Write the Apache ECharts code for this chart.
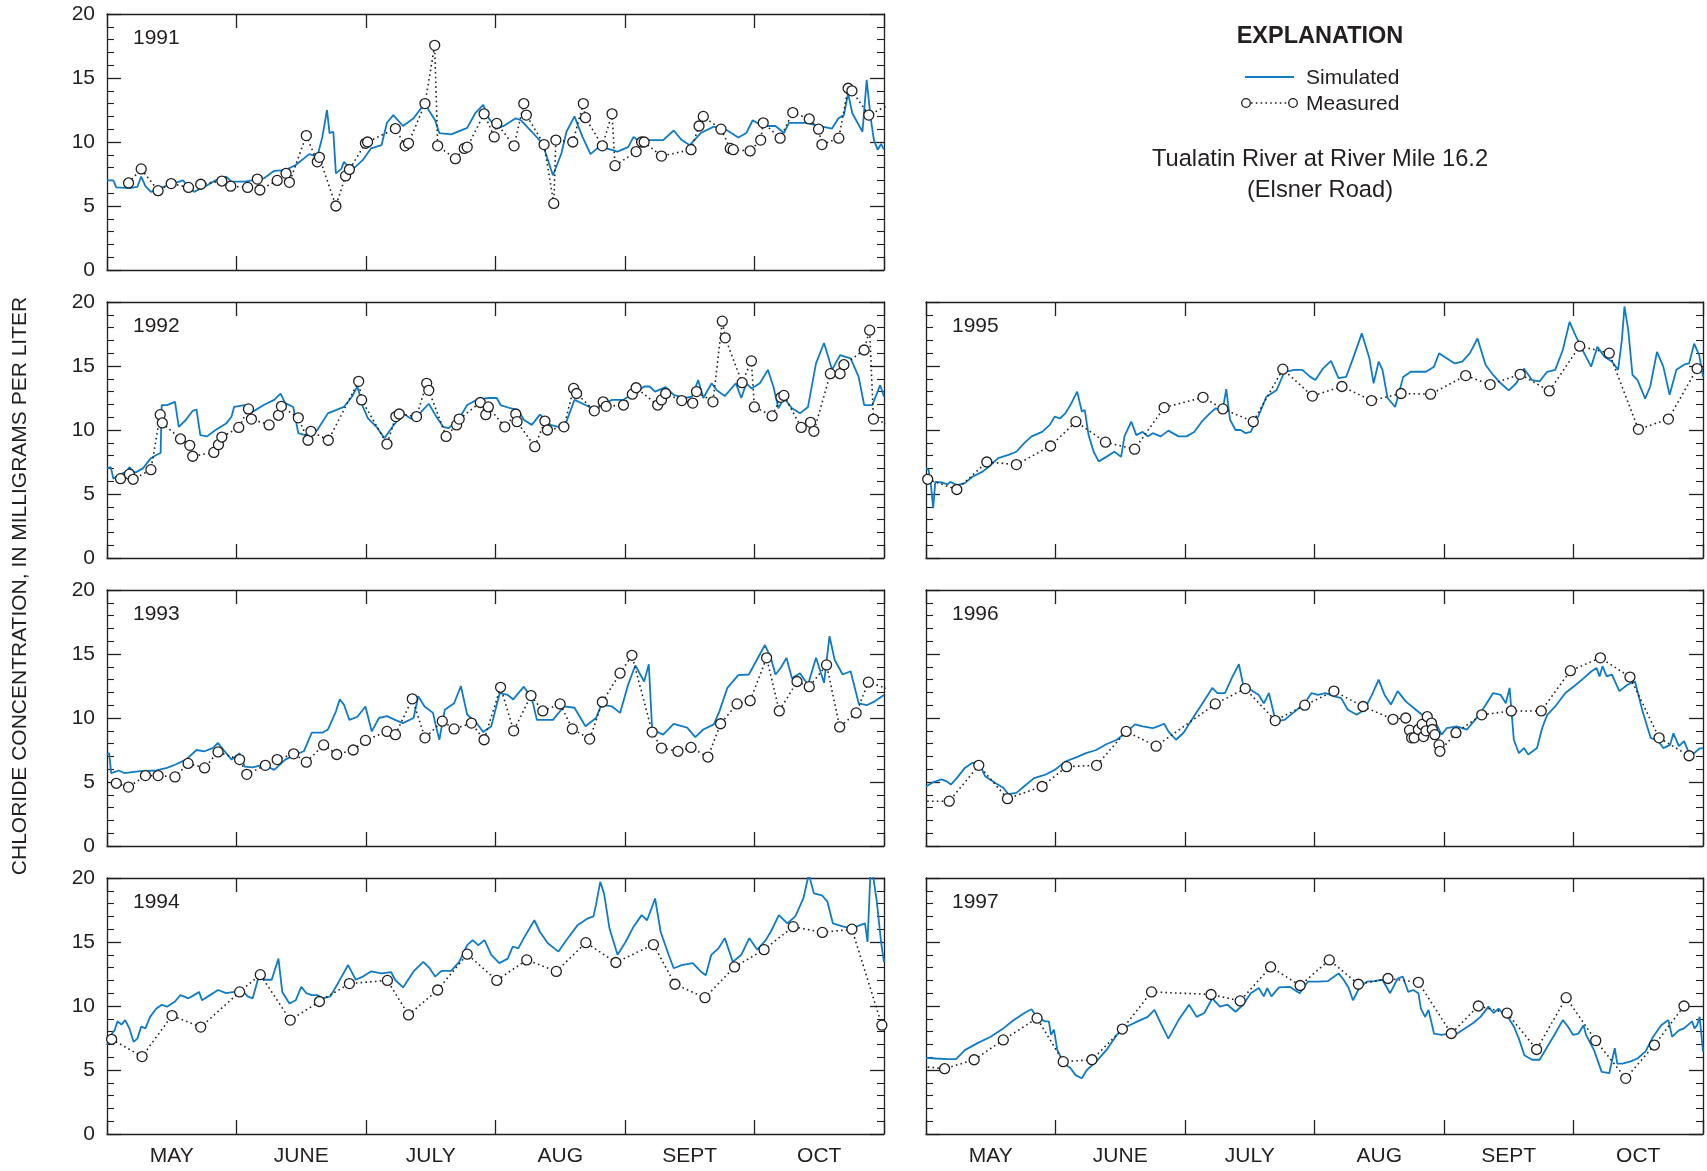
<!DOCTYPE html>
<html>
<head>
<meta charset="utf-8">
<title>Chloride concentration, Tualatin River at River Mile 16.2</title>
<script src="https://cdn.jsdelivr.net/npm/echarts@6.0.0/dist/echarts.min.js"></script>
<style>
  html, body { margin: 0; padding: 0; background: #fff; }
  #chart { width: 1707px; height: 1171px; }
</style>
</head>
<body>
<div id="chart"></div>
<script>
// x values are days after May 1 (June 1 = 31, July 1 = 61, Aug 1 = 92, Sept 1 = 123, Oct 1 = 153)
const months = ["MAY", "JUNE", "JULY", "AUG", "SEPT", "OCT"];
const years = ["1991", "1992", "1993", "1994", "1995", "1996", "1997"];
const yTicks = [0, 5, 10, 15, 20];

const sim1991 = [[0,7.0],[1.5,7.0],[2.2,6.45],[5.3,6.4],[7.2,6.5],[8.1,7.3],[9.1,6.55],[10.4,6.1],[14.2,6.6],[18,7.0],[19.3,6.5],[20.6,6.1],[23.1,6.5],[25.7,7.0],[28.2,7.3],[29.5,6.9],[32.6,6.9],[37.1,7.15],[39.6,7.75],[42.2,7.8],[44.7,8.2],[47.9,9.05],[49.8,8.85],[51,10.4],[52.1,12.5],[52.7,10.7],[53.6,10.8],[54.2,7.55],[55.5,7.9],[56.1,8.45],[58,7.8],[60.6,8.6],[62.5,9.5],[65,9.75],[66.3,11.5],[67.8,12.1],[70.1,11.25],[72.6,11.85],[75.2,13.0],[77.7,11.7],[78.7,10.7],[81.5,10.6],[85.3,11.1],[87.2,12.25],[89.1,12.9],[90.4,11.85],[92.3,11.05],[94.2,11.3],[96.8,11.85],[98,11.7],[100.6,10.8],[103.1,9.9],[105.6,7.4],[107.6,9.1],[108.8,10.8],[110.7,12.0],[112.6,10.4],[114.5,9.05],[116.4,9.6],[118.3,9.5],[120.9,9.25],[123.4,9.6],[124.7,10.4],[126.6,9.9],[128.5,10.15],[131.7,10.15],[134.2,10.9],[136.1,10.15],[138,9.75],[140.6,10.7],[143.7,11.2],[146.9,10.9],[149.5,10.35],[151.4,10.7],[152.9,11.7],[155.2,11.25],[158.3,11.25],[160.3,10.7],[161.5,11.5],[166,11.5],[167.9,11.3],[171.7,11.05],[173.2,11.85],[174.5,12.1],[175.5,13.8],[176.5,12.25],[177.4,11.7],[178.9,10.8],[179.9,14.85],[180.8,12.0],[181.6,10.15],[182.5,9.4],[183.3,9.85],[184,9.4]];
const meas1991 = [[5.1,6.8],[8.1,7.9],[12.1,6.2],[15.2,6.75],[19.3,6.45],[22.2,6.7],[27.2,6.95],[29.3,6.55],[33.3,6.45],[35.6,7.1],[36.2,6.25],[40.3,7.0],[42.4,7.55],[43.2,6.85],[47.2,10.5],[49.8,8.45],[50.3,8.8],[54.2,5.0],[56.5,7.35],[57.4,7.85],[61.2,9.9],[61.7,10.0],[68.3,11.05],[70.6,9.7],[71.4,9.9],[75.3,13.0],[77.6,17.55],[78.3,9.7],[82.5,8.7],[84.6,9.5],[85.3,9.6],[89.3,12.2],[91.7,10.4],[92.3,11.45],[96.4,9.7],[98.7,13.0],[99.3,12.1],[103.5,9.8],[105.8,5.2],[106.3,10.15],[110.3,10.0],[112.8,13.0],[113.3,11.9],[117.3,9.7],[119.6,12.2],[120.3,8.15],[125.3,9.25],[126.6,10.0],[127.2,10.0],[131.3,8.9],[138.3,9.4],[140.2,11.25],[141.2,12.0],[145.4,11.0],[147.6,9.5],[148.3,9.4],[152.3,9.3],[154.8,10.15],[155.4,11.5],[159.4,10.3],[162.4,12.3],[166.3,11.8],[168.5,11.0],[169.3,9.8],[173.3,10.3],[175.5,14.2],[176.4,14.0],[180.4,12.1],[187.5,13.3]];

const sim1992 = [[0,7.0],[0.9,7.1],[1.5,6.2],[2.8,6.5],[4.7,6.75],[5.3,7.1],[6.6,6.65],[8.5,7.0],[10.4,7.8],[11.7,8.05],[12.7,8.2],[12.95,11.95],[14.2,11.95],[16.1,12.2],[17,10.25],[18.7,10.8],[20.3,11.5],[21.2,11.6],[22.1,9.6],[23.7,9.5],[25.7,10.0],[28.2,10.5],[29.5,11.05],[30.1,11.8],[32.6,11.95],[33.9,11.3],[37.1,11.95],[39.6,12.35],[41.1,12.85],[42.2,12.1],[44.1,11.8],[45.3,9.75],[47.9,9.5],[49.8,10.0],[52.3,11.3],[54.2,11.55],[56.1,11.8],[58,12.6],[59.3,13.4],[60.6,11.8],[61.8,10.9],[63.8,10.25],[65.7,9.35],[67.6,10.25],[70.1,11.3],[71.9,10.9],[73.3,10.9],[74.5,11.45],[76.2,12.05],[77.7,11.2],[79.6,10.25],[80.9,10.15],[83.4,10.9],[85.3,11.95],[87.8,12.4],[90.4,12.5],[92.3,12.5],[93.2,11.95],[95.5,11.7],[97.4,11.55],[98.7,10.8],[100.6,10.4],[102.5,11.2],[103.7,10.9],[105,10.4],[106.9,10.25],[108.8,10.65],[110.7,12.35],[113.3,11.95],[115.8,11.55],[117.1,11.95],[119.6,12.35],[122.2,12.35],[124.1,12.75],[126,13.1],[127.2,13.4],[128.5,13.4],[129.8,13.0],[132.3,13.35],[134.2,12.75],[136.8,12.5],[138.5,12.6],[140,13.9],[141.2,12.5],[143.2,13.65],[144.4,13.1],[146.3,12.65],[148.9,13.65],[150.2,12.5],[151.4,13.65],[152.6,13.25],[154.6,13.65],[156.5,14.7],[157.8,13.4],[159,11.7],[160.3,12.5],[162.2,11.7],[164.1,11.3],[166,11.8],[167.9,15.2],[169.8,16.8],[171.7,14.7],[173.6,15.85],[176.1,15.6],[178,14.15],[179.3,11.95],[181.2,11.95],[183.1,13.5],[184,12.6]];
const meas1992 = [[3.2,6.2],[5.3,6.55],[6.2,6.15],[10.4,6.9],[12.6,11.2],[13.1,10.55],[17.4,9.3],[19.6,8.8],[20.3,7.95],[25.3,8.25],[26.4,8.85],[27.2,9.45],[31.2,10.2],[33.5,11.65],[34.2,10.85],[38.4,10.4],[40.6,11.15],[41.3,11.85],[45.3,10.95],[47.6,9.2],[48.3,9.9],[52.4,9.2],[59.6,13.8],[60.3,12.35],[66.3,8.9],[68.4,11.05],[69.2,11.25],[73.3,11.05],[75.7,13.65],[76.2,13.1],[80.3,9.5],[82.8,10.4],[83.4,10.85],[88.4,12.15],[89.7,11.2],[90.3,11.8],[94.2,10.25],[96.8,11.25],[97.1,10.65],[101.3,8.7],[103.7,10.7],[104.3,10.0],[108.2,10.25],[110.5,13.25],[111.2,12.85],[115.4,11.5],[117.5,12.2],[118.2,11.85],[122.3,11.95],[124.4,12.8],[125.3,13.3],[130.4,11.95],[131.3,12.35],[132.3,12.85],[136.1,12.3],[138.7,12.1],[139.6,13.0],[143.5,12.2],[145.7,18.5],[146.4,17.2],[150.4,13.7],[152.6,15.4],[153.3,11.8],[157.5,11.1],[159.6,12.55],[160.3,12.7],[164.4,10.2],[166.6,10.6],[167.4,9.9],[171.3,14.4],[173.6,14.4],[174.5,15.1],[179.3,16.25],[180.6,17.8],[181.5,10.85],[187.5,10.2]];

const sim1993 = [[0,7.15],[0.5,7.25],[1,5.7],[2.8,5.9],[4.1,5.7],[7.9,5.85],[11.7,5.9],[14.2,6.1],[16.1,6.35],[18.7,6.75],[21.2,7.5],[23.1,7.4],[25,7.65],[26.3,8.05],[27.6,7.5],[29.5,6.75],[31.4,7.25],[32.6,6.2],[34.5,6.15],[37.1,6.35],[39.6,5.95],[42.2,6.75],[44.7,7.15],[46.6,7.4],[48.5,8.85],[51,8.85],[52.3,9.1],[54.2,10.5],[55.1,11.45],[56.1,11.05],[57.4,9.85],[59.3,10.1],[61.2,10.9],[62.7,8.95],[64.4,10.0],[66.3,10.15],[68.2,9.85],[70.1,9.6],[72.6,10.0],[73.7,11.7],[75.2,10.9],[77.2,10.4],[77.8,9.5],[78.7,8.3],[80,10.65],[82.2,11.15],[83.8,12.5],[85.3,10.25],[87.2,9.75],[89.1,8.9],[91,9.35],[93,11.95],[94.9,11.8],[96.2,11.45],[98.7,12.45],[100.6,11.55],[101.8,9.85],[105.6,9.85],[108.2,10.9],[110.7,10.8],[113.3,9.35],[115.8,10.0],[117.1,11.05],[119.6,10.9],[121.5,10.4],[123.4,12.6],[125.1,14.1],[127.2,12.85],[128.3,14.2],[129.1,9.1],[131.7,8.7],[134.2,9.55],[137.4,9.25],[139.3,8.5],[141.2,9.1],[143.7,9.5],[145,10.5],[146.9,12.35],[149.5,13.35],[152,13.4],[153.9,14.55],[155.8,15.7],[157.1,14.8],[158.3,13.4],[159.6,13.95],[160.9,14.7],[162.2,13.1],[164.1,13.5],[166,12.6],[167.9,14.7],[169.8,12.75],[171.1,16.4],[172.3,14.55],[174.2,13.4],[176.1,13.65],[178,11.15],[179.9,11.0],[181.8,11.3],[184,11.8]];
const meas1993 = [[2.2,4.9],[5.1,4.6],[9.1,5.5],[12.1,5.5],[16.1,5.4],[19.2,6.45],[23.1,6.1],[26.3,7.35],[31.4,6.75],[33.1,5.6],[37.5,6.3],[40.3,6.75],[44.2,7.2],[47.2,6.55],[51.3,7.9],[54.4,7.15],[58.3,7.5],[61.2,8.25],[66.3,8.95],[68.3,8.7],[72.3,11.5],[75.3,8.45],[79.4,9.75],[82.2,9.15],[86.3,9.6],[89.3,8.3],[93.2,12.4],[96.3,9.0],[100.4,11.75],[103.2,10.55],[107.3,11.1],[110.2,9.15],[114.3,8.35],[117.3,11.25],[121.5,13.5],[124.3,14.9],[129.1,8.9],[131.3,7.65],[135.2,7.4],[138.3,7.7],[142.3,6.95],[145.3,9.55],[149.2,11.1],[152.3,11.35],[156.2,14.7],[159.2,10.55],[163.4,12.85],[166.3,12.45],[170.4,14.15],[173.5,9.3],[177.4,10.4],[180.3,12.8],[187.5,12.0]];

const sim1994 = [[0,6.95],[0.9,7.75],[1.8,8.1],[2.5,8.8],[3.4,8.55],[4.3,8.9],[5.3,8.25],[6.3,7.2],[7.2,7.45],[8.1,8.4],[9.1,8.25],[10.2,9.15],[11.7,9.8],[13,10.1],[14.2,9.95],[16.1,10.35],[17.4,10.85],[19.3,10.6],[20.6,10.85],[21.8,11.1],[22.5,10.45],[24.4,10.85],[26.3,11.25],[28.2,11.0],[30.1,11.1],[32,11.25],[33.3,10.75],[34.5,10.6],[35.8,12.15],[37.7,12.05],[39,12.05],[40.6,13.7],[41.5,11.1],[43.2,10.2],[44.7,10.45],[46,11.5],[47.2,11.0],[48.5,10.85],[49.8,10.85],[51,10.6],[52.9,10.75],[54.9,11.9],[57.1,13.2],[58.9,12.05],[60.6,12.3],[62.5,12.7],[65,12.55],[67.3,12.65],[68.2,12.05],[70.1,11.45],[72.6,12.7],[74.9,13.45],[76.4,12.95],[77.7,12.3],[79.2,12.75],[81.5,12.75],[83.4,13.45],[85.3,14.75],[86.6,15.15],[87.9,14.75],[89.4,15.15],[91,14.0],[92.9,13.35],[94.9,13.7],[96.1,14.65],[97.4,14.5],[98.7,15.3],[101.2,16.7],[102.5,15.8],[104.4,14.9],[106.9,14.25],[108.8,15.15],[111.4,16.3],[113.9,16.85],[115.2,17.0],[115.8,17.9],[116.8,19.7],[117.7,18.8],[119,16.05],[120.9,14.0],[122.8,15.0],[124.7,16.2],[126.6,17.1],[127.9,16.7],[129.8,18.4],[131.1,15.8],[133,14.0],[134.2,12.95],[136.1,13.2],[138.7,13.35],[140.6,12.7],[141.8,12.4],[143.1,14.0],[144.8,14.5],[146.3,15.3],[148.2,13.45],[150.2,14.0],[152.1,15.3],[154,14.4],[156,15.15],[157.2,15.8],[159.1,17.1],[161.1,16.45],[163,17.0],[164.9,18.4],[166.2,20.3],[167.4,18.8],[169.3,18.65],[170.6,18.15],[171.9,16.45],[174.4,16.2],[176.3,16.05],[178.2,16.3],[179.5,16.45],[180.1,15.0],[180.8,20.5],[181.4,20.2],[182.3,18.15],[183.3,15.0],[184,13.45]];
const meas1994 = [[1.1,7.4],[8.3,6.05],[15.4,9.25],[22.2,8.35],[31.4,11.1],[36.3,12.45],[43.4,8.9],[50.3,10.35],[57.4,11.75],[66.4,12.0],[71.4,9.3],[78.3,11.25],[85.3,14.05],[92.3,12.0],[99.4,13.6],[106.4,12.7],[113.4,14.95],[120.5,13.4],[129.4,14.8],[134.5,11.7],[141.6,10.65],[148.6,13.05],[155.6,14.4],[162.5,16.2],[169.4,15.75],[176.4,16.0],[183.5,8.5]];

const sim1995 = [[0,7.0],[0.6,6.9],[1.2,5.6],[1.7,3.9],[2.2,5.95],[3.7,5.9],[5.1,5.75],[5.7,5.95],[7.3,5.7],[9.2,5.85],[11,6.35],[13.4,6.75],[15.3,7.25],[17.1,7.8],[19.5,8.05],[21.4,8.3],[23.2,8.95],[25,9.5],[27.5,9.85],[29.3,10.4],[30.5,11.05],[31.7,10.9],[33,11.3],[34.2,11.95],[35.8,13.0],[36.9,11.45],[37.6,11.55],[38.5,9.6],[39.7,8.3],[40.9,7.55],[42.7,7.9],[44.6,8.3],[46.2,7.9],[47,9.5],[48.6,10.65],[49.8,9.6],[51.3,9.85],[52.5,9.5],[53.7,9.75],[55.6,9.5],[57.4,9.95],[59.8,9.5],[61.7,9.5],[63.5,9.85],[65.3,10.65],[67.2,11.3],[68.6,11.7],[70.2,11.45],[71.1,13.2],[72,10.8],[73.3,10.0],[74.5,10.0],[75.7,9.75],[76.9,9.85],[78.8,11.15],[80.6,12.6],[83,13.1],[84.9,14.55],[87.3,14.7],[89.1,14.7],[91,14.15],[92.2,13.9],[94,14.8],[95.9,15.4],[97.7,14.05],[99.5,14.15],[101.3,15.75],[103.2,17.55],[105,15.6],[106,13.65],[107.2,15.35],[108.1,14.7],[109.3,12.5],[111.1,11.8],[113,14.15],[114.8,14.55],[116.6,14.55],[118.4,14.55],[120.3,14.95],[121.5,16.0],[123.3,15.6],[125.2,15.2],[127,15.35],[128.8,16.0],[130.6,17.15],[132.5,15.1],[134.3,14.3],[136.1,13.65],[138,13.1],[139.8,13.65],[141.6,14.8],[143.5,13.9],[145.3,13.8],[147.1,14.55],[149,14.7],[150.8,16.25],[152.4,18.45],[153.8,17.4],[155.7,16.1],[157.5,14.95],[159,16.5],[160.6,15.75],[162.4,15.35],[163.9,14.7],[164.8,17.05],[165.4,19.65],[166.3,17.8],[167.3,14.3],[168.5,13.9],[170.3,12.45],[171.5,13.4],[173.1,16.1],[174.6,14.95],[176.1,12.75],[177.7,14.7],[179.5,15.1],[180.7,15.2],[181.9,16.75],[183.1,15.85],[184,14.15]];
const meas1995 = [[0.4,6.15],[7.3,5.35],[14.4,7.5],[21.4,7.3],[29.5,8.75],[35.5,10.65],[42.5,9.05],[49.4,8.5],[56.4,11.75],[65.6,12.55],[70.3,11.65],[77.5,10.65],[84.5,14.75],[91.5,12.65],[98.5,13.4],[105.5,12.3],[112.5,12.85],[119.5,12.8],[127.8,14.25],[133.6,13.55],[140.7,14.35],[147.6,13.05],[154.8,16.55],[161.8,16.0],[168.7,10.05],[175.8,10.85],[182.6,14.8]];

const sim1996 = [[0,4.65],[1.8,5.0],[3.7,5.2],[4.9,5.05],[5.9,4.8],[7.3,5.3],[9.2,6.1],[11,6.5],[12.5,6.5],[14,5.45],[16.5,4.9],[18.3,4.55],[19.5,4.05],[21.4,4.15],[23.2,4.65],[25.6,5.3],[28.1,5.55],[30.5,5.95],[33,6.6],[35.4,6.9],[37.9,7.25],[40.3,7.5],[42.7,7.95],[45.2,8.3],[47.6,8.95],[49.5,9.5],[51.3,9.35],[53.7,9.2],[54.9,9.35],[56.4,9.55],[57.4,8.95],[59.2,8.3],[61,8.85],[63.5,10.15],[65.3,11.05],[67.8,12.35],[69,11.95],[70.8,11.95],[72.6,13.25],[74.1,14.2],[75.1,12.6],[76.9,12.2],[78.8,11.8],[80,11.15],[81.2,11.95],[82.8,9.75],[84.9,9.85],[87.3,10.5],[89.7,11.15],[91.3,11.95],[92.8,11.8],[94.6,11.95],[96.5,11.7],[98.3,11.55],[99.9,10.65],[102,10.25],[103.8,10.65],[105.6,11.8],[107.2,13.0],[108.6,11.8],[110.1,11.05],[111.7,12.1],[113.6,11.3],[116,10.65],[118.4,10.0],[120.9,9.5],[122.1,8.7],[123.3,9.2],[125.7,9.35],[128.1,9.1],[130,9.85],[131.8,10.65],[134.3,11.95],[136.1,11.8],[137.3,11.15],[138.2,12.35],[139.2,8.3],[140.4,7.25],[141.6,7.65],[142.6,7.15],[144.7,7.65],[145.9,9.2],[147.1,10.25],[149,10.9],[151.4,11.95],[153.9,12.6],[155.7,13.1],[157.6,13.65],[158.8,13.9],[159.5,13.25],[160.2,14.05],[161.2,13.25],[162.4,13.4],[164.2,12.1],[166.1,12.6],[167.9,12.85],[169.7,10.5],[171.6,8.45],[173.4,8.2],[174.6,7.65],[176.2,7.9],[177,8.8],[178.3,7.8],[179.5,8.2],[180.7,7.25],[181.9,7.25],[183.1,7.6],[184,7.65]];
const meas1996 = [[-2,3.5],[5.5,3.5],[12.5,6.3],[19.3,3.7],[27.5,4.65],[33.3,6.2],[40.4,6.3],[47.4,8.95],[54.5,7.8],[68.5,11.1],[75.6,12.3],[82.7,9.8],[89.7,11.0],[96.6,12.1],[103.5,10.9],[110.6,9.9],[113.6,10.0],[114.5,9.05],[115,8.45],[115.6,8.45],[116.6,9.1],[117.5,9.5],[117.8,8.55],[118.4,9.0],[118.7,10.1],[119.7,9.6],[119.9,9.1],[120.5,8.7],[121.5,7.9],[121.7,7.4],[125.5,8.85],[131.6,10.25],[138.6,10.55],[145.7,10.55],[152.6,13.7],[159.7,14.7],[166.7,13.2],[173.6,8.45],[180.7,7.05]];

const sim1997 = [[0,5.95],[2.4,5.9],[4.9,5.85],[7.1,5.85],[9.2,6.55],[12.2,7.1],[15.3,7.6],[18.3,8.25],[20.8,8.9],[22.6,9.3],[23.8,9.55],[25,9.75],[25.9,9.3],[26.9,9.05],[28.1,8.8],[29.1,8.8],[29.6,7.75],[30.3,8.15],[31.1,6.55],[32.7,5.5],[34.2,5.15],[35.4,4.6],[36.9,4.35],[38.1,5.0],[40.3,5.65],[42.7,6.55],[45.2,7.75],[47.6,8.4],[50.1,8.8],[52.5,9.15],[54.1,9.7],[55.6,8.65],[57.4,7.45],[59.8,8.9],[62.3,10.1],[64.1,9.15],[65.9,9.45],[67.8,10.6],[69.6,9.95],[71.4,10.1],[73.3,9.55],[75.1,10.1],[76.9,11.0],[78.8,11.4],[80,10.75],[80.8,11.4],[81.8,10.75],[83.6,11.45],[86.1,11.5],[88.5,11.0],[90.4,11.9],[92.8,11.9],[95.2,11.95],[97.7,12.55],[98.9,12.05],[100.1,11.4],[101.1,10.45],[102.6,11.4],[104.4,11.9],[106.2,11.95],[108.1,12.05],[109.9,11.0],[111.7,12.15],[112.9,12.3],[114.2,11.1],[115.4,11.25],[116.6,11.0],[117.2,9.8],[118.2,9.15],[119,9.7],[120.3,7.85],[122.1,7.75],[124,7.85],[125.8,7.85],[127.6,8.25],[129.5,8.65],[131.3,9.15],[133.2,9.95],[134.4,9.45],[135.6,9.8],[136.8,9.3],[138,9.05],[139.2,8.4],[140.4,7.45],[141.7,6.15],[143.5,5.8],[145.3,5.8],[147.1,6.8],[149,7.85],[150.8,8.9],[152,8.4],[153.2,7.75],[154.5,7.85],[155.7,8.5],[156.3,7.75],[158.2,6.55],[160,4.85],[161.8,4.75],[163.1,6.7],[163.7,5.5],[164.9,5.5],[166.7,5.65],[168.5,5.9],[170.4,6.45],[172.2,7.6],[174.1,8.5],[175.8,8.9],[176.7,7.6],[178.3,8.1],[179.5,8.25],[181.4,8.8],[182,8.25],[182.6,8.5],[183.2,9.15],[184,6.45]];
const meas1997 = [[-3,5.35],[4.4,5.1],[11.4,5.8],[18.3,7.35],[26.3,9.05],[32.5,5.65],[39.3,5.8],[46.5,8.2],[53.4,11.1],[67.5,10.9],[74.4,10.4],[81.6,13.05],[88.6,11.6],[95.5,13.6],[102.4,11.7],[109.4,12.15],[116.6,11.85],[124.4,7.85],[130.8,10.0],[137.6,9.45],[144.6,6.6],[151.6,10.65],[158.6,7.3],[165.7,4.35],[172.5,6.95],[179.5,10.0]];

const simulated = [sim1991, sim1992, sim1993, sim1994, sim1995, sim1996, sim1997];
const measured = [meas1991, meas1992, meas1993, meas1994, meas1995, meas1996, meas1997];

// panel placement: column, row
const panelCol = [0, 0, 0, 0, 1, 1, 1];
const panelRow = [0, 1, 2, 3, 1, 2, 3];
const colLeft = [107, 926];
const colWidth = [777, 777];
const rowTop = [14, 302, 590, 878];
const rowHeight = 256;

const ink = "#231f20";
const blue = "#0f7bc4";
const font = "'Liberation Sans', Arial, Helvetica, sans-serif";

const chart = echarts.init(document.getElementById("chart"), null, { renderer: "canvas" });

const grid = [], xAxis = [], yAxis = [], series = [], title = [];

years.forEach((yr, i) => {
  const col = panelCol[i], row = panelRow[i];
  grid.push({
    left: colLeft[col], top: rowTop[row], width: colWidth[col], height: rowHeight,
    outerBoundsMode: "none", containLabel: false,
  });

  const frameLine = { show: true, onZero: false, lineStyle: { color: ink, width: 1.3 } };
  const monthTick = { show: true, inside: true, length: 14, interval: 0, lineStyle: { color: ink, width: 1.3 } };

  xAxis.push({
    type: "value", gridIndex: i, min: 0, max: 184, show: false,
  });
  xAxis.push({
    type: "category", gridIndex: i, position: "bottom", data: months,
    axisLine: frameLine, axisTick: monthTick,
    axisLabel: {
      show: row === 3, interval: 0, margin: 12, fontSize: 21, color: ink, fontFamily: font,
    },
    splitLine: { show: false },
  });
  xAxis.push({
    type: "category", gridIndex: i, position: "top", data: months,
    axisLine: frameLine, axisTick: monthTick,
    axisLabel: { show: false }, splitLine: { show: false },
  });

  const yCommon = {
    type: "value", gridIndex: i, min: yTicks[0], max: yTicks[yTicks.length - 1], interval: 5,
    axisLine: frameLine,
    axisTick: { show: true, inside: true, length: 14, lineStyle: { color: ink, width: 1.3 } },
    minorTick: { show: true, splitNumber: 5, length: 7, lineStyle: { color: ink, width: 1.1 } },
    splitLine: { show: false }, minorSplitLine: { show: false },
  };
  yAxis.push(Object.assign({}, yCommon, {
    position: "left",
    axisLabel: { show: col === 0, margin: 12, fontSize: 21, color: ink, fontFamily: font },
  }));
  yAxis.push(Object.assign({}, yCommon, {
    position: "right", axisLabel: { show: false },
  }));

  series.push({
    name: "Simulated", type: "line", xAxisIndex: 3 * i, yAxisIndex: 2 * i,
    data: simulated[i], symbol: "none", showSymbol: false, clip: true, z: 2,
    lineStyle: { color: blue, width: 1.8 }, itemStyle: { color: blue },
  });
  series.push({
    name: "Measured", type: "line", xAxisIndex: 3 * i, yAxisIndex: 2 * i,
    data: measured[i], symbol: "circle", symbolSize: 10, showAllSymbol: true, clip: true, z: 3,
    itemStyle: { color: "#fff", borderColor: ink, borderWidth: 1.3 },
    lineStyle: { color: ink, width: 1.6, type: [1.6, 3.2] },
  });

  title.push({
    text: yr, left: colLeft[col] + 26, top: rowTop[row] + 14, padding: 0,
    textStyle: { fontSize: 21, fontWeight: "normal", color: ink, fontFamily: font },
  });
});

chart.setOption({
  animation: false,
  backgroundColor: "#fff",
  title: title,
  grid: grid,
  xAxis: xAxis,
  yAxis: yAxis,
  series: series,
  graphic: [
    {
      type: "text", x: 20, y: 586, rotation: Math.PI / 2,
      style: {
        text: "CHLORIDE CONCENTRATION, IN MILLIGRAMS PER LITER",
        fill: ink, font: "21px " + font, align: "center", verticalAlign: "middle",
      },
    },
    {
      type: "text", x: 1320, y: 37,
      style: { text: "EXPLANATION", fill: ink, font: "bold 23.5px " + font, align: "center", verticalAlign: "middle" },
    },
    {
      type: "line", shape: { x1: 1245, y1: 77, x2: 1294, y2: 77 },
      style: { stroke: blue, lineWidth: 2 },
    },
    {
      type: "text", x: 1306, y: 78,
      style: { text: "Simulated", fill: ink, font: "21px " + font, align: "left", verticalAlign: "middle" },
    },
    {
      type: "line", shape: { x1: 1251, y1: 103, x2: 1288, y2: 103 },
      style: { stroke: ink, lineWidth: 1.6, lineDash: [1.6, 3.2] },
    },
    {
      type: "circle", shape: { cx: 1246, cy: 103, r: 4.3 },
      style: { fill: "#fff", stroke: ink, lineWidth: 1.3 },
    },
    {
      type: "circle", shape: { cx: 1293, cy: 103, r: 4.3 },
      style: { fill: "#fff", stroke: ink, lineWidth: 1.3 },
    },
    {
      type: "text", x: 1306, y: 104,
      style: { text: "Measured", fill: ink, font: "21px " + font, align: "left", verticalAlign: "middle" },
    },
    {
      type: "text", x: 1320, y: 159,
      style: { text: "Tualatin River at River Mile 16.2", fill: ink, font: "23.7px " + font, align: "center", verticalAlign: "middle" },
    },
    {
      type: "text", x: 1320, y: 190,
      style: { text: "(Elsner Road)", fill: ink, font: "23.7px " + font, align: "center", verticalAlign: "middle" },
    },
  ],
});
</script>
</body>
</html>
